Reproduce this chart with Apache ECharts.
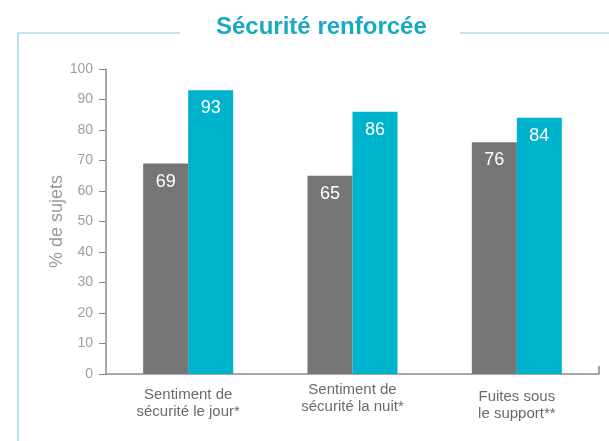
<!DOCTYPE html>
<html><head><meta charset="utf-8">
<script src="https://cdn.jsdelivr.net/npm/echarts@6/dist/echarts.min.js"></script>
<style>html,body{margin:0;padding:0;background:#fff}#c{width:609px;height:441px}</style>
</head><body><div id="c"></div>
<script>
var categories = ['Sentiment de\nsécurité le jour*', 'Sentiment de\nsécurité la nuit*', 'Fuites sous\nle support**'];
var seriesGray = [69, 65, 76];
var seriesTeal = [93, 86, 84];
var yTicks = [0, 10, 20, 30, 40, 50, 60, 70, 80, 90, 100];
var labelShift = [2, -3, 4];

var chart = echarts.init(document.getElementById('c'));
var font = 'Liberation Sans, Arial, sans-serif';
var labelCfg = {show: true, position: 'insideTop', distance: 9, color: '#fff', fontSize: 18, fontFamily: font};
chart.setOption({
  animation: false,
  backgroundColor: '#fff',
  title: {text: 'Sécurité renforcée', left: 211, top: 10,
    textStyle: {color: '#17aac2', fontSize: 24, fontWeight: 'bold', fontFamily: font}},
  grid: {left: 106, right: 10, top: 69, bottom: 67},
  xAxis: {type: 'category',
    data: categories.map(function (c, i) { return {value: c, textStyle: {padding: [labelShift[i], 0, 0, 0]}}; }),
    axisLine: {lineStyle: {color: '#8a8a8a', width: 1.5}},
    axisTick: {show: false},
    axisLabel: {color: '#6a6a6a', fontSize: 15, fontFamily: font, margin: 10, lineHeight: 17}},
  yAxis: {type: 'value', min: yTicks[0], max: yTicks[yTicks.length - 1], interval: 10,
    name: '% de sujets', nameLocation: 'middle', nameGap: 40, nameMoveOverlap: false,
    nameTextStyle: {color: '#9a9a9a', fontSize: 18, fontFamily: font},
    axisLine: {show: true, lineStyle: {color: '#8a8a8a', width: 1.5}},
    axisTick: {show: true, length: 7, lineStyle: {color: '#8a8a8a'}},
    splitLine: {show: false},
    axisLabel: {color: '#a0a0a0', fontSize: 14, fontFamily: font, margin: 13}},
  series: [
    {type: 'bar', data: seriesGray, barWidth: 45, barGap: '0%', itemStyle: {color: '#767676'}, label: labelCfg},
    {type: 'bar', data: seriesTeal, barWidth: 45, itemStyle: {color: '#00b3cc'}, label: labelCfg}
  ],
  graphic: [
    {type: 'line', shape: {x1: 18, y1: 33, x2: 180, y2: 33}, style: {stroke: '#7ccfdc', lineWidth: 1}},
    {type: 'line', shape: {x1: 460, y1: 33, x2: 609, y2: 33}, style: {stroke: '#7ccfdc', lineWidth: 1}},
    {type: 'line', shape: {x1: 18, y1: 33, x2: 18, y2: 441}, style: {stroke: '#7ccfdc', lineWidth: 1.2}},
    {type: 'line', shape: {x1: 599, y1: 366, x2: 599, y2: 374}, style: {stroke: '#8a8a8a', lineWidth: 1.5}}
  ]
});
</script></body></html>
